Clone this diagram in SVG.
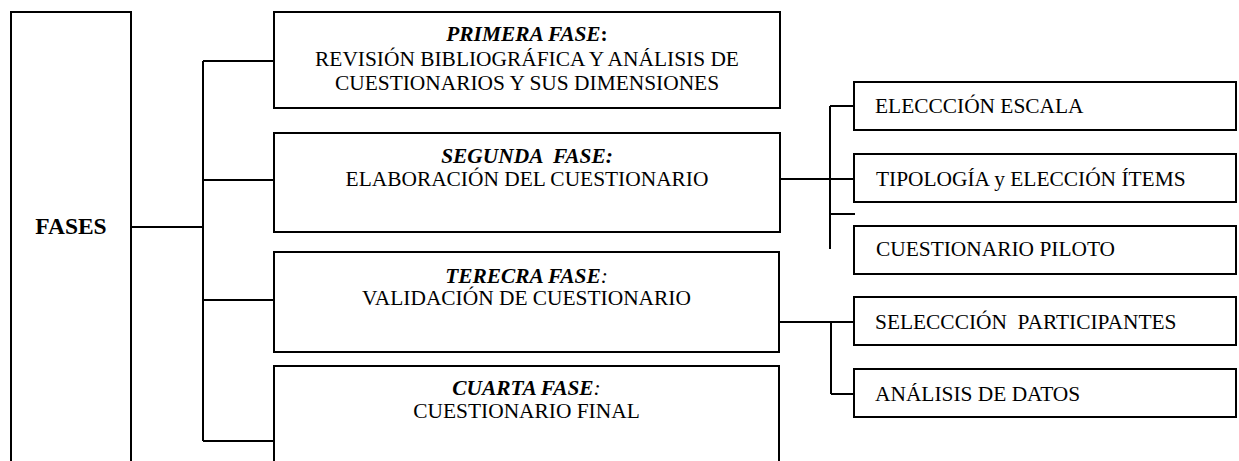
<svg xmlns="http://www.w3.org/2000/svg" width="1239" height="461" viewBox="0 0 1239 461">
<style>
.box{fill:#fff;stroke:#000;stroke-width:2}
.ln{stroke:#000;stroke-width:2;fill:none}
text{font-family:"Liberation Serif","Times New Roman",serif;font-size:20px;fill:#000}
.c{text-anchor:middle}
.bi{font-weight:bold;font-style:italic}
.b{font-weight:bold}
.i{font-style:italic}
</style>
<rect width="1239" height="461" fill="#fff"/>
<g id="connectors">
<path class="ln" d="M203,61 V441 M203,61 H274 M203,180 H274 M131,227 H204 M203,300 H274 M203,441 H274"/>
<path class="ln" d="M780,179 H853 M830,106 V249 M830,106 H854 M830,214 H855"/>
<path class="ln" d="M779,322 H854 M831,322 V394 M831,394 H854"/>
</g>
<g id="fases">
<rect class="box" x="11" y="12" width="120" height="470"/>
<text class="c b" x="71" y="234" style="font-size:23.5px">FASES</text>
</g>
<g id="primera">
<rect class="box" x="274" y="12" width="506" height="96"/>
<text class="c" transform="translate(527,41) scale(1.07,1)"><tspan class="bi">PRIMERA FASE</tspan><tspan class="b">:</tspan></text>
<text class="c" transform="translate(527,65.5) scale(1.07,1)">REVISIÓN BIBLIOGRÁFICA Y ANÁLISIS DE</text>
<text class="c" transform="translate(527,90) scale(1.07,1)">CUESTIONARIOS Y SUS DIMENSIONES</text>
</g>
<g id="segunda">
<rect class="box" x="274" y="133" width="506" height="99"/>
<text class="c bi" xml:space="preserve" transform="translate(527,163) scale(1.07,1)">SEGUNDA  FASE:</text>
<text class="c" transform="translate(527,186) scale(1.07,1)">ELABORACIÓN DEL CUESTIONARIO</text>
</g>
<g id="tercera">
<rect class="box" x="274" y="252" width="505" height="100"/>
<text class="c" transform="translate(526.5,282.5) scale(1.07,1)"><tspan class="bi">TERECRA FASE</tspan><tspan class="i">:</tspan></text>
<text class="c" transform="translate(526.5,305) scale(1.07,1)">VALIDACIÓN DE CUESTIONARIO</text>
</g>
<g id="cuarta">
<rect class="box" x="274" y="366" width="505" height="120"/>
<text class="c" transform="translate(526.5,395) scale(1.07,1)"><tspan class="bi">CUARTA FASE</tspan><tspan class="i">:</tspan></text>
<text class="c" transform="translate(526.5,418) scale(1.07,1)">CUESTIONARIO FINAL</text>
</g>
<g id="eleccion">
<rect class="box" x="854" y="82" width="382" height="48"/>
<text transform="translate(875,113) scale(1.07,1)">ELECCCIÓN ESCALA</text>
</g>
<g id="tipologia">
<rect class="box" x="854" y="154" width="382" height="48"/>
<text transform="translate(876,186) scale(1.07,1)">TIPOLOGÍA y ELECCIÓN ÍTEMS</text>
</g>
<g id="piloto">
<rect class="box" x="854" y="226" width="382" height="48"/>
<text transform="translate(876,256) scale(1.07,1)">CUESTIONARIO PILOTO</text>
</g>
<g id="seleccion">
<rect class="box" x="854" y="297" width="382" height="48"/>
<text xml:space="preserve" transform="translate(875,329) scale(1.07,1)">SELECCCIÓN  PARTICIPANTES</text>
</g>
<g id="analisis">
<rect class="box" x="854" y="369" width="382" height="48"/>
<text transform="translate(875,400.5) scale(1.07,1)">ANÁLISIS DE DATOS</text>
</g>
</svg>
